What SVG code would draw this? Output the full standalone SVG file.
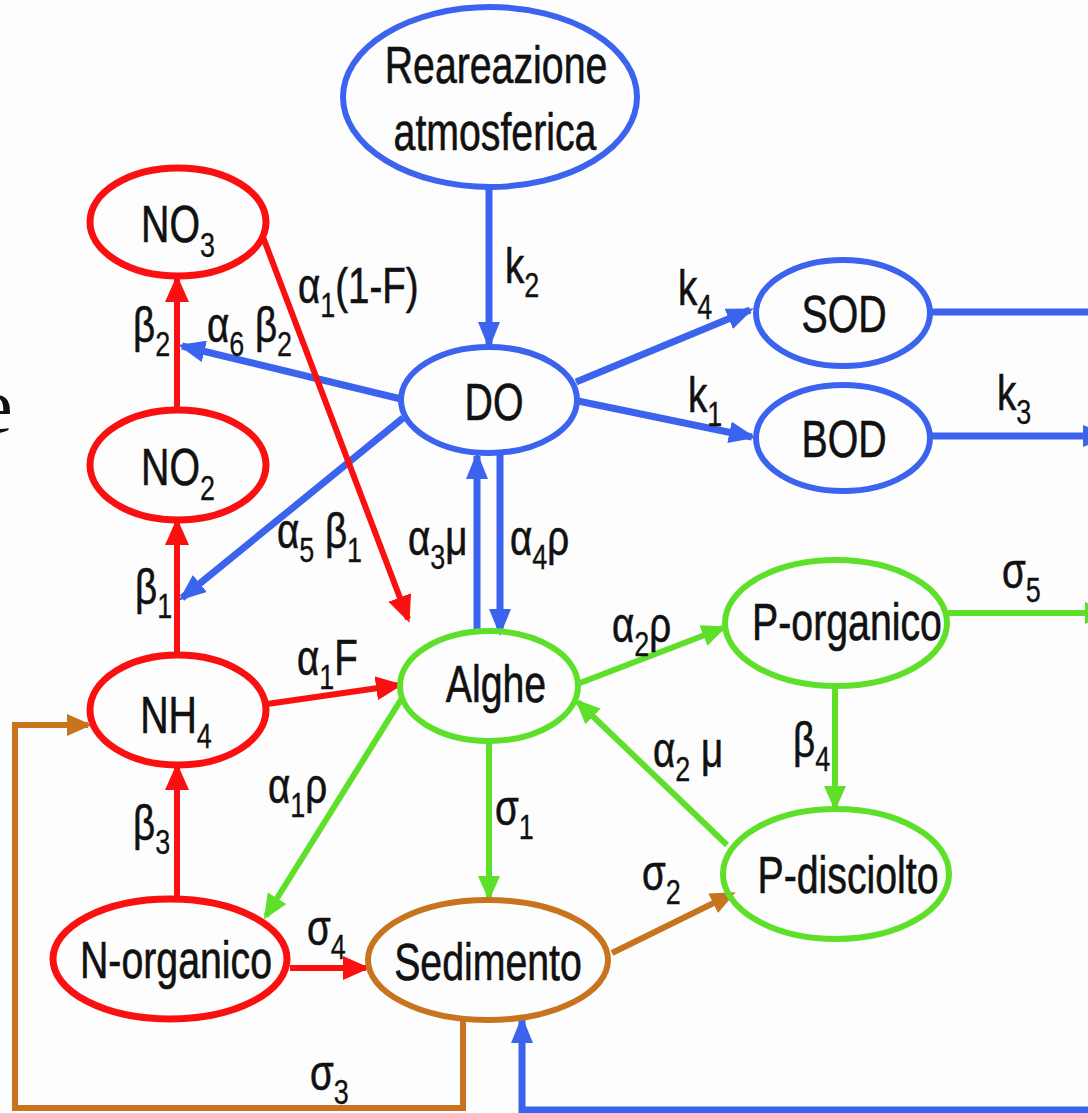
<svg xmlns="http://www.w3.org/2000/svg" width="1088" height="1113" viewBox="0 0 1088 1113">
<style>
.t{font-family:"Liberation Sans",Arial,sans-serif;font-size:51px;fill:#111;stroke:#111;stroke-width:0.6}
.l{font-family:"Liberation Sans",Arial,sans-serif;font-size:50px;fill:#111;stroke:#111;stroke-width:0.6}
.s{font-size:35px;stroke-width:0.3}
.nb{fill:none;stroke:#3b63ee;stroke-width:6}
.nr{fill:none;stroke:#fa1010;stroke-width:7}
.ng{fill:none;stroke:#5ee02b;stroke-width:6}
.no{fill:none;stroke:#c8731e;stroke-width:6}
.cb{fill:none;stroke:#3b63ee;stroke-width:7}
.cr{fill:none;stroke:#fa1010;stroke-width:6}
.cg{fill:none;stroke:#5ee02b;stroke-width:6}
.co{fill:none;stroke:#c8731e;stroke-width:6}
</style>
<defs>
<marker id="ab" markerWidth="28" markerHeight="22" refX="23" refY="11" orient="auto" markerUnits="userSpaceOnUse"><path d="M0,0 L27,11 L0,22 z" fill="#3b63ee"/></marker>
<marker id="ar" markerWidth="28" markerHeight="24" refX="23" refY="12" orient="auto" markerUnits="userSpaceOnUse"><path d="M0,0 L27,12 L0,24 z" fill="#fa1010"/></marker>
<marker id="ag" markerWidth="26" markerHeight="22" refX="21" refY="11" orient="auto" markerUnits="userSpaceOnUse"><path d="M0,0 L25,11 L0,22 z" fill="#5ee02b"/></marker>
<marker id="ao" markerWidth="26" markerHeight="22" refX="21" refY="11" orient="auto" markerUnits="userSpaceOnUse"><path d="M0,0 L25,11 L0,22 z" fill="#c8731e"/></marker>
</defs>
<rect width="1088" height="1113" fill="#fdfdfd"/>
<text x="-22" y="432" font-family="'Liberation Serif','Times New Roman',serif" font-size="78" fill="#111">e</text>

<g id="connectors">
<line class="cb" x1="489" y1="188" x2="489" y2="345" stroke-width="5" marker-end="url(#ab)"/>
<line class="cb" x1="576" y1="382" x2="750" y2="310" marker-end="url(#ab)"/>
<line class="cb" x1="578" y1="401" x2="752" y2="437" marker-end="url(#ab)"/>
<line class="cb" x1="932" y1="312" x2="1088" y2="312"/>
<line class="cb" x1="932" y1="436" x2="1106" y2="436" marker-end="url(#ab)"/>
<line class="cb" x1="401" y1="399" x2="182" y2="346" marker-end="url(#ab)"/>
<line class="cb" x1="403" y1="418" x2="182" y2="598" stroke-width="6" marker-end="url(#ab)"/>
<line class="cb" x1="477" y1="632" x2="477" y2="456" stroke-width="6" marker-end="url(#ab)"/>
<line class="cb" x1="500" y1="454" x2="500" y2="632" stroke-width="6" marker-end="url(#ab)"/>
<polyline class="cb" points="1088,1110 522,1110 522,1020" stroke-width="6" marker-end="url(#ab)"/>

<line class="cr" x1="177" y1="409" x2="177" y2="279" marker-end="url(#ar)"/>
<line class="cr" x1="177" y1="654" x2="177" y2="522" marker-end="url(#ar)"/>
<line class="cr" x1="177" y1="898" x2="177" y2="767" marker-end="url(#ar)"/>
<line class="cr" x1="263" y1="237" x2="408" y2="619" stroke-width="4" marker-end="url(#ar)"/>
<line class="cr" x1="267" y1="704" x2="399" y2="685" stroke-width="7" marker-end="url(#ar)"/>
<line class="cr" x1="290" y1="968" x2="366" y2="968" stroke-width="7" marker-end="url(#ar)"/>

<line class="cg" x1="402" y1="698" x2="266" y2="916" stroke-width="4.5" marker-end="url(#ag)"/>
<line class="cg" x1="489" y1="742" x2="489" y2="897" marker-end="url(#ag)"/>
<line class="cg" x1="580" y1="683" x2="723" y2="628" marker-end="url(#ag)"/>
<line class="cg" x1="727" y1="845" x2="578" y2="702" marker-end="url(#ag)"/>
<line class="cg" x1="835" y1="687" x2="835" y2="807" marker-end="url(#ag)"/>
<line class="cg" x1="948" y1="613" x2="1106" y2="613" marker-end="url(#ag)"/>

<line class="co" x1="612" y1="953" x2="732" y2="894" marker-end="url(#ao)"/>
<polyline class="co" points="463,1018 463,1108 15,1108 15,725 88,725" marker-end="url(#ao)"/>
</g>

<g id="n-reareazione"><ellipse class="nb" cx="490" cy="97" rx="147" ry="90"/>
<text class="t" text-anchor="middle" transform="translate(496,83) scale(0.77,1)">Reareazione</text>
<text class="t" text-anchor="middle" transform="translate(495,150) scale(0.77,1)">atmosferica</text></g>
<g id="n-no3"><ellipse class="nr" cx="178" cy="222" rx="88" ry="54"/>
<text class="t" text-anchor="middle" transform="translate(178,242) scale(0.77,1)">NO<tspan class="s" dy="15">3</tspan></text></g>
<g id="n-no2"><ellipse class="nr" cx="178" cy="465" rx="88" ry="55"/>
<text class="t" text-anchor="middle" transform="translate(178,485) scale(0.77,1)">NO<tspan class="s" dy="15">2</tspan></text></g>
<g id="n-nh4"><ellipse class="nr" cx="178" cy="710" rx="88" ry="55"/>
<text class="t" text-anchor="middle" transform="translate(176,733) scale(0.77,1)">NH<tspan class="s" dy="15">4</tspan></text></g>
<g id="n-norganico"><ellipse class="nr" cx="170" cy="959" rx="117" ry="60"/>
<text class="t" text-anchor="middle" transform="translate(176,978) scale(0.77,1)">N-organico</text></g>
<g id="n-do"><ellipse class="nb" cx="489" cy="400" rx="88" ry="53"/>
<text class="t" text-anchor="middle" transform="translate(494,420) scale(0.77,1)">DO</text></g>
<g id="n-sod"><ellipse class="nb" cx="843" cy="313" rx="87" ry="53"/>
<text class="t" text-anchor="middle" transform="translate(844,332) scale(0.77,1)">SOD</text></g>
<g id="n-bod"><ellipse class="nb" cx="843" cy="438" rx="87" ry="53"/>
<text class="t" text-anchor="middle" transform="translate(844,457) scale(0.77,1)">BOD</text></g>
<g id="n-alghe"><ellipse class="ng" cx="489" cy="686" rx="89" ry="55"/>
<text class="t" text-anchor="middle" transform="translate(496,702) scale(0.77,1)">Alghe</text></g>
<g id="n-porganico"><ellipse class="ng" cx="836" cy="623" rx="111" ry="63"/>
<text class="t" text-anchor="middle" transform="translate(847,640) scale(0.77,1)">P-organico</text></g>
<g id="n-pdisciolto"><ellipse class="ng" cx="836" cy="874" rx="113" ry="65"/>
<text class="t" text-anchor="middle" transform="translate(848,893) scale(0.77,1)">P-disciolto</text></g>
<g id="n-sedimento"><ellipse class="no" cx="488" cy="960" rx="120" ry="60"/>
<text class="t" text-anchor="middle" transform="translate(488,980) scale(0.77,1)">Sedimento</text></g>

<g id="labels">
<text class="l" transform="translate(505,283) scale(0.77,1)">k<tspan class="s" dy="14">2</tspan></text>
<text class="l" transform="translate(678,305) scale(0.77,1)">k<tspan class="s" dy="14">4</tspan></text>
<text class="l" transform="translate(688,412) scale(0.77,1)">k<tspan class="s" dy="14">1</tspan></text>
<text class="l" transform="translate(997,410) scale(0.77,1)">k<tspan class="s" dy="14">3</tspan></text>
<text class="l" transform="translate(298,303) scale(0.77,1)">α<tspan class="s" dy="14">1</tspan><tspan dy="-14">(1-F)</tspan></text>
<text class="l" transform="translate(207,342) scale(0.77,1)">α<tspan class="s" dy="14">6</tspan><tspan dy="-14"> β</tspan><tspan class="s" dy="14">2</tspan></text>
<text class="l" transform="translate(133,342) scale(0.77,1)">β<tspan class="s" dy="14">2</tspan></text>
<text class="l" transform="translate(277,548) scale(0.77,1)">α<tspan class="s" dy="14">5</tspan><tspan dy="-14"> β</tspan><tspan class="s" dy="14">1</tspan></text>
<text class="l" transform="translate(408,555) scale(0.77,1)">α<tspan class="s" dy="14">3</tspan><tspan dy="-14">μ</tspan></text>
<text class="l" transform="translate(510,555) scale(0.77,1)">α<tspan class="s" dy="14">4</tspan><tspan dy="-14">ρ</tspan></text>
<text class="l" transform="translate(135,604) scale(0.77,1)">β<tspan class="s" dy="14">1</tspan></text>
<text class="l" transform="translate(297,675) scale(0.77,1)">α<tspan class="s" dy="14">1</tspan><tspan dy="-14">F</tspan></text>
<text class="l" transform="translate(268,803) scale(0.77,1)">α<tspan class="s" dy="14">1</tspan><tspan dy="-14">ρ</tspan></text>
<text class="l" transform="translate(133,840) scale(0.77,1)">β<tspan class="s" dy="14">3</tspan></text>
<text class="l" transform="translate(307,945) scale(0.77,1)">σ<tspan class="s" dy="14">4</tspan></text>
<text class="l" transform="translate(495,825) scale(0.77,1)">σ<tspan class="s" dy="14">1</tspan></text>
<text class="l" transform="translate(642,890) scale(0.77,1)">σ<tspan class="s" dy="14">2</tspan></text>
<text class="l" transform="translate(653,767) scale(0.77,1)">α<tspan class="s" dy="14">2</tspan><tspan dy="-14"> μ</tspan></text>
<text class="l" transform="translate(612,642) scale(0.77,1)">α<tspan class="s" dy="14">2</tspan><tspan dy="-14">ρ</tspan></text>
<text class="l" transform="translate(793,757) scale(0.77,1)">β<tspan class="s" dy="14">4</tspan></text>
<text class="l" transform="translate(1002,588) scale(0.77,1)">σ<tspan class="s" dy="14">5</tspan></text>
<text class="l" transform="translate(310,1090) scale(0.77,1)">σ<tspan class="s" dy="14">3</tspan></text>
</g>
</svg>
